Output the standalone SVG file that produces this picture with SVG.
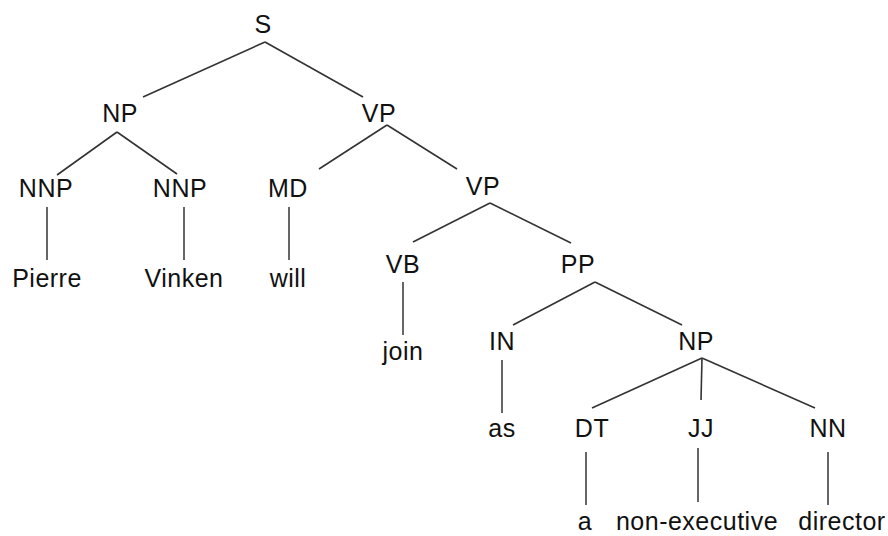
<svg xmlns="http://www.w3.org/2000/svg" width="888" height="536" viewBox="0 0 888 536">
  <style>
    text { font-family: "Liberation Sans", Arial, sans-serif; font-size: 25px; fill: #111; text-anchor: middle; letter-spacing: 0.5px; }
    .edge { stroke: #333; stroke-width: 1.6; fill: none; }
    .leaf { stroke: #666; stroke-width: 2; fill: none; }
  </style>
  <rect width="888" height="536" fill="#fff"/>

  <!-- connectors -->
  <g id="edges">
    <line class="edge" x1="265" y1="42" x2="143" y2="97"/>
    <line class="edge" x1="265" y1="42" x2="363" y2="97"/>
    <line class="edge" x1="117" y1="132" x2="57" y2="175"/>
    <line class="edge" x1="117" y1="132" x2="177" y2="174"/>
    <line class="edge" x1="387" y1="125" x2="319" y2="169"/>
    <line class="edge" x1="387" y1="125" x2="457" y2="169"/>
    <line class="edge" x1="490" y1="203" x2="413" y2="242"/>
    <line class="edge" x1="490" y1="203" x2="571" y2="243"/>
    <line class="edge" x1="595" y1="282" x2="513" y2="325"/>
    <line class="edge" x1="595" y1="282" x2="682" y2="325"/>
    <line class="edge" x1="702" y1="358" x2="592" y2="408"/>
    <line class="edge" x1="702" y1="358" x2="701" y2="400"/>
    <line class="edge" x1="702" y1="358" x2="815" y2="408"/>
    <line class="leaf" x1="47" y1="207" x2="47" y2="260"/>
    <line class="leaf" x1="184" y1="207" x2="184" y2="260"/>
    <line class="leaf" x1="289" y1="207" x2="289" y2="260"/>
    <line class="leaf" x1="403" y1="282" x2="403" y2="335"/>
    <line class="leaf" x1="502" y1="360" x2="502" y2="413"/>
    <line class="leaf" x1="586" y1="452" x2="586" y2="505"/>
    <line class="leaf" x1="698" y1="448" x2="698" y2="502"/>
    <line class="leaf" x1="828" y1="452" x2="828" y2="505"/>
  </g>

  <!-- phrase and tag nodes -->
  <g id="S"><text x="263" y="33">S</text></g>
  <g id="NP1"><text x="120" y="122">NP</text></g>
  <g id="VP1"><text x="379" y="122">VP</text></g>
  <g id="NNP1"><text x="46" y="197">NNP</text></g>
  <g id="NNP2"><text x="180" y="197">NNP</text></g>
  <g id="MD"><text x="288" y="197">MD</text></g>
  <g id="VP2"><text x="483" y="195">VP</text></g>
  <g id="VB"><text x="403" y="273">VB</text></g>
  <g id="PP"><text x="578" y="273">PP</text></g>
  <g id="IN"><text x="502" y="350">IN</text></g>
  <g id="NP2"><text x="696" y="350">NP</text></g>
  <g id="DT"><text x="592" y="437">DT</text></g>
  <g id="JJ"><text x="701" y="437">JJ</text></g>
  <g id="NN"><text x="828" y="437">NN</text></g>

  <!-- words -->
  <g id="w-Pierre"><text x="47" y="287">Pierre</text></g>
  <g id="w-Vinken"><text x="184" y="287">Vinken</text></g>
  <g id="w-will"><text x="288" y="287">will</text></g>
  <g id="w-join"><text x="403" y="360">join</text></g>
  <g id="w-as"><text x="502" y="437">as</text></g>
  <g id="w-a"><text x="585" y="530">a</text></g>
  <g id="w-non-executive"><text x="697" y="530">non-executive</text></g>
  <g id="w-director"><text x="842" y="530">director</text></g>
</svg>
